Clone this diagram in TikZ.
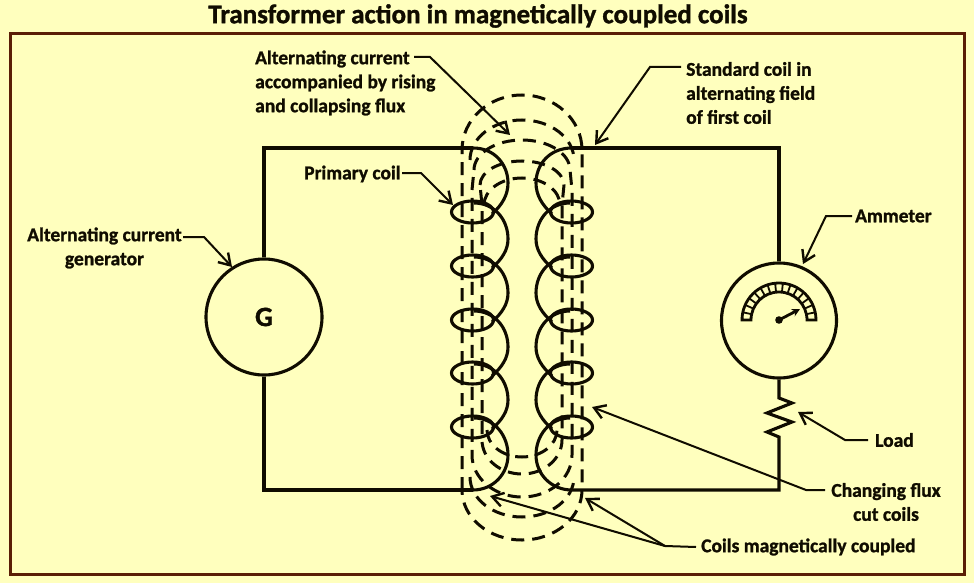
\documentclass[tikz,border=0pt]{standalone}
\usepackage{fontspec}
\setmainfont{Carlito}[BoldFeatures={FakeBold=1.2}]
\usepackage{xcolor}
\usepackage{tikz}
\usetikzlibrary{positioning, calc, arrows.meta}
\definecolor{paper}{HTML}{FFFFBE}
\definecolor{framecol}{HTML}{5A1E06}
\definecolor{inkcol}{HTML}{100C00}

\tikzset{
  wire/.style={draw=inkcol, line width=3.1pt},
  coil/.style={draw=inkcol, line width=3.1pt},
  fluxline/.style={draw=inkcol, line width=3pt, dash pattern=on 13pt off 8pt},
  callout/.style={draw=inkcol, line width=2pt, -{Straight Barb[length=11pt,width=14pt,line width=2.4pt]}},
  plainline/.style={draw=inkcol, line width=2pt},
  lbl/.style={font=\fontsize{19.5}{24}\selectfont\bfseries, text=inkcol, inner sep=0pt, align=left},
  lblc/.style={lbl, align=center}
}

\begin{document}
\begin{tikzpicture}[x=1pt, y=-1pt]

      % Page and frame
      \fill[paper] (0,0) rectangle (974,583);
      \useasboundingbox (0,0) rectangle (974,583);
      \draw[framecol, line width=3pt] (10,34) rectangle (964,574);

      % Title
      \node[lblc, font=\fontsize{27}{28}\selectfont\bfseries] (title) at (478,16) {Transformer action in magnetically coupled coils};

      % Generator and ammeter
      \node[circle, wire, minimum size=116pt, inner sep=0pt, font=\fontsize{28}{28}\selectfont\bfseries, text=inkcol] (gen) at (264,317) {G};
      \node[circle, wire, minimum size=115pt, inner sep=0pt] (meter) at (779,320.5) {};

      % Coil ends
      \coordinate (ptop) at (473,148);
      \coordinate (pbot) at (473,490);
      \coordinate (stop) at (572,148);
      \coordinate (sbot) at (572,490);

      % Circuit
      \draw[wire] (ptop) -- (264,148) -- (gen.north);
      \draw[wire] (gen.south) -- (264,490) -- (pbot);
      \draw[wire] (stop) -- (779,148) -- (meter.north);
      \draw[wire] (meter.south) -- (779,398) -- (792,403) -- (767,413) -- (792,422) -- (767,432) -- (779,437) -- (779,490) -- (sbot);

      % Coils
      \foreach \cy in {212,266,320,373,427} {
        \draw[coil] (472.5,\cy) ellipse[x radius=21, y radius=11];
        \draw[coil] (571.5,\cy) ellipse[x radius=21, y radius=11];
      }
      \draw[coil] (ptop) .. controls (495,148) and (508,165) .. (508,183) .. controls (508,195) and (502,205) .. (492,214);
      \draw[coil] (stop) .. controls (549,148) and (536,165) .. (536,183) .. controls (536,195) and (542,205) .. (552,214);
      \foreach \cy in {212,266,320,373} {
        \draw[coil] (474,\cy-9) .. controls (494,\cy-9) and (508,\cy+7) .. (508,\cy+27) .. controls (508,\cy+38) and (502,\cy+47) .. (492,\cy+56);
        \draw[coil] (570,\cy-9) .. controls (550,\cy-9) and (536,\cy+7) .. (536,\cy+27) .. controls (536,\cy+38) and (542,\cy+47) .. (552,\cy+56);
      }
      \draw[coil] (474,418) .. controls (495,418) and (508,436) .. (508,455) .. controls (508,474) and (493,490) .. (pbot);
      \draw[coil] (570,418) .. controls (549,418) and (536,436) .. (536,455) .. controls (536,474) and (551,490) .. (sbot);

      % Flux lines
      \draw[fluxline] (462,490) -- (462,150) arc[start angle=180, end angle=360, x radius=60, y radius=55] -- (582,490) arc[start angle=0, end angle=-180, x radius=60, y radius=-50];
      \draw[fluxline] (470,160) arc[start angle=180, end angle=360, x radius=52, y radius=40];
      \draw[fluxline] (474,170) arc[start angle=180, end angle=360, x radius=48, y radius=30] -- (572,190) -- (572,455) arc[start angle=0, end angle=-180, x radius=50, y radius=-42] -- (472,190) -- cycle;
      \draw[fluxline] (480,185) arc[start angle=180, end angle=360, x radius=42, y radius=24] -- (562,205) -- (562,440) arc[start angle=0, end angle=-180, x radius=40, y radius=-34] -- (482,205) -- cycle;
      \draw[fluxline] (484,205) arc[start angle=180, end angle=360, x radius=38, y radius=27];
      \draw[fluxline] (470,477) arc[start angle=180, end angle=360, x radius=52, y radius=-40];
      \draw[fluxline] (487,430) arc[start angle=180, end angle=360, x radius=35, y radius=-27];

      % Meter dial
      \draw[draw=inkcol, line width=2.8pt] (751,320) arc[start angle=180, end angle=0, x radius=28, y radius=-28] -- (816,320) arc[start angle=0, end angle=180, x radius=37, y radius=-37] -- cycle;
      \foreach \ang in {12,24,...,168} {
        \draw[draw=inkcol, line width=1.8pt] ($(779,320)+(\ang:28pt)$) -- ($(779,320)+(\ang:37pt)$);
      }
      \fill[inkcol] (779,320) circle[radius=3.8];
      \draw[draw=inkcol, line width=2.8pt, -{Stealth[length=8pt,width=8pt]}] (779,320) -- (800,309);

      % Labels
      \node[lbl, anchor=west] (flux) at (255,83) {Alternating current\\accompanied by rising\\and collapsing flux};
      \node[lbl, anchor=west] (std) at (686,93) {Standard coil in\\alternating field\\of first coil};
      \node[lbl, anchor=west] (prim) at (304,174) {Primary coil};
      \node[lblc] (genlbl) at (104.5,248) {Alternating current\\generator};
      \node[lbl, anchor=west] (amm) at (855,216) {Ammeter};
      \node[lbl, anchor=west] (load) at (875,440) {Load};
      \node[lblc] (chg) at (886,502) {Changing flux\\cut coils};
      \node[lbl, anchor=west] (coup) at (701,547) {Coils magnetically coupled};

      % Callout arrows
      \coordinate (fluxtip) at (510,135);
      \coordinate (stdtip) at (595,145);
      \coordinate (primtip) at (453,205);
      \coordinate (gentip) at (232,267);
      \coordinate (ammtip) at (803,264);
      \coordinate (loadtip) at (798,412);
      \coordinate (chgtip) at (592,407);
      \coordinate (couptipa) at (585,498);
      \coordinate (couptipb) at (490,496);
      \coordinate (coupjoin) at (665,546);

      \draw[callout] (414,57) -- (430,57) -- (fluxtip);
      \draw[callout] (681,67) -- (650,67) -- (stdtip);
      \draw[callout] (402,173) -- (421,173) -- (primtip);
      \draw[callout] (183,237) -- (204,237) -- (gentip);
      \draw[callout] (852,216) -- (826,216) -- (ammtip);
      \draw[callout] (868,440) -- (845,440) -- (loadtip);
      \draw[callout] (825,490) -- (806,490) -- (chgtip);
      \draw[plainline] (coup.west) ++(-5,0) -- (coupjoin);
      \draw[callout] (coupjoin) -- (couptipa);
      \draw[callout] (coupjoin) -- (couptipb);
\end{tikzpicture}
\end{document}
